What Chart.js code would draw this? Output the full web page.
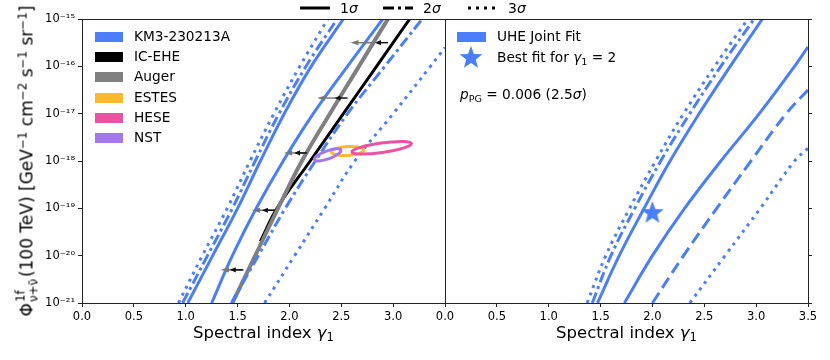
<!DOCTYPE html>
<html>
<head>
<meta charset="utf-8">
<script src="https://cdn.jsdelivr.net/npm/chart.js@4.4.1/dist/chart.umd.min.js"></script>
<style>
  body { margin: 0; background: #fff; }
  #wrap { position: relative; width: 830px; height: 360px; font-family: "DejaVu Sans", sans-serif; color: #000; }
  #wrap canvas { position: absolute; left: 0; top: 0; }
  .lbl { position: absolute; white-space: nowrap; z-index: 5; line-height: 1; }
  .mid { transform: translateY(-50%); }
  .swatch { position: absolute; width: 28px; height: 10px; z-index: 5; }
  sub, sup { font-size: 0.7em; line-height: 0; }
  sub { vertical-align: -0.3em; }
  sup { vertical-align: 0.5em; }
  #ylab { left: 27px; top: 161px; font-size: 17px; transform: translate(-50%, -50%) rotate(-90deg); }
  .ss { display: inline-block; position: relative; width: 26px; height: 0; }
  .ss span { position: absolute; left: 1px; font-size: 11.9px; line-height: 1; }
  .ss .up { top: -17px; }
  .ss .dn { top: -4px; }
  .xlab { top: 333px; font-size: 16.5px; transform: translate(-50%, -50%); }
  .leg { font-size: 13.7px; }
</style>
</head>
<body>
<div id="wrap">
  <canvas id="left" width="830" height="360"></canvas>
  <canvas id="right" width="830" height="360"></canvas>
  <div id="overlay"></div>
</div>
<script>
// ---- data (γ1, log10 Φ) ----
const leftXTicks = [0, 0.5, 1, 1.5, 2, 2.5, 3];
const rightXTicks = [0, 0.5, 1, 1.5, 2, 2.5, 3, 3.5];
const yTickExps = [-21, -20, -19, -18, -17, -16, -15];

// left panel: KM3-230213A contours
const km3Sig3Left  = [[0.93,-21],[1.16,-20],[1.40,-19],[1.62,-18],[1.85,-17],[2.10,-16],[2.37,-15]];
const km3Sig2Left  = [[0.97,-21],[1.21,-20],[1.45,-19],[1.67,-18],[1.90,-17],[2.16,-16],[2.46,-15]];
const km3Sig1Left  = [[1.02,-21],[1.26,-20],[1.50,-19],[1.72,-18],[1.95,-17],[2.21,-16],[2.52,-15]];
const km3Sig1Right = [[1.25,-21],[1.45,-20],[1.68,-19],[1.94,-18],[2.23,-17],[2.56,-16],[2.90,-15]];
const km3Sig2Right = [[1.44,-21],[1.70,-20],[1.96,-19],[2.25,-18],[2.56,-17],[2.92,-16],[3.28,-15]];
const km3Sig3Right = [[1.76,-21],[2.05,-20],[2.34,-19],[2.63,-18],[3.00,-17],[3.36,-16],[3.50,-15.6]];

// IC-EHE and Auger limits
const iceheLine = [[1.72,-19.7],[1.88,-19],[2.20,-18],[2.52,-17],[2.84,-16],[3.16,-15]];
const augerLine = [[1.45,-21],[1.67,-20],[1.89,-19],[2.12,-18],[2.39,-17],[2.67,-16],[2.95,-15]];
const augerArrows = [[2.81,-15.5],[2.49,-16.67],[2.17,-17.83],[1.86,-19.04],[1.56,-20.3]];
const iceheArrows = [[2.95,-15.5],[2.56,-16.67],[2.17,-17.83],[1.86,-19.04],[1.55,-20.3]];

// 1σ contours of ESTES, HESE, NST: [γ centre, log centre, half width γ, half height dex, tilt deg]
const estesContour = [2.56, -17.79, 0.155, 0.095, -3];
const heseContour  = [2.89, -17.72, 0.29, 0.10, -8];
const nstContour   = [2.37, -17.87, 0.135, 0.085, -20];

// right panel: UHE joint fit contours
const uheSig3Left  = [[1.37,-21],[1.55,-20],[1.78,-19],[2.03,-18],[2.30,-17],[2.60,-16],[2.92,-15]];
const uheSig2Left  = [[1.42,-21],[1.60,-20],[1.83,-19],[2.08,-18],[2.36,-17],[2.66,-16],[2.98,-15]];
const uheSig1Left  = [[1.47,-21],[1.68,-20],[1.92,-19],[2.17,-18],[2.45,-17],[2.75,-16],[3.06,-15]];
const uheSig1Right = [[1.73,-21],[2.00,-20],[2.31,-19],[2.66,-18],[3.03,-17],[3.37,-16],[3.50,-15.59]];
const uheSig2Right = [[2.00,-21],[2.30,-20],[2.62,-19],[2.95,-18],[3.29,-17],[3.50,-16.5]];
const uheSig3Right = [[2.36,-21],[2.70,-20],[3.04,-19],[3.37,-18],[3.50,-17.73]];
const uheBestFit   = [[2.0,-19.1]];

const sourceNames = ['KM3-230213A', 'IC-EHE', 'Auger', 'ESTES', 'HESE', 'NST'];
const sourceColors = ['#4a7efc', '#000000', '#808080', '#fdb92c', '#ec52a4', '#a577ec'];
const sigmaNames = ['1', '2', '3'];
const pValueText = '0.006 (2.5';

const BLUE = sourceColors[0];
const DOT = [3, 5];
const DASHDOT = [11, 4, 3, 4];
const DASH = [12, 6];

// ---- helpers ----
function pow10(e) { return Number('1e' + e); }

function toSup(n) {
  const map = { '-': '⁻', '0': '⁰', '1': '¹', '2': '²', '3': '³', '4': '⁴', '5': '⁵', '6': '⁶', '7': '⁷', '8': '⁸', '9': '⁹' };
  return String(n).split('').map(c => map[c]).join('');
}

function curve(points, color, dash, width, order) {
  return {
    data: points.map(([g, e]) => ({ x: g, y: Math.pow(10, e) })),
    borderColor: color,
    borderWidth: width,
    borderDash: dash,
    borderCapStyle: 'butt',
    pointRadius: 0,
    tension: 0.4,
    fill: false,
    order: order || 0
  };
}

function makeStar(r, color) {
  const c = document.createElement('canvas');
  c.width = c.height = r * 2 + 2;
  const g = c.getContext('2d');
  g.fillStyle = color;
  g.beginPath();
  for (let i = 0; i < 10; i++) {
    const rad = i % 2 ? r * 0.42 : r;
    const a = -Math.PI / 2 + i * Math.PI / 5;
    g.lineTo(r + 1 + rad * Math.cos(a), r + 1 + rad * Math.sin(a));
  }
  g.closePath();
  g.fill();
  return c;
}

// frame round the plot area
const framePlugin = {
  id: 'frame',
  afterDraw(chart) {
    const { ctx, chartArea: a } = chart;
    const l = Math.round(a.left) + 0.5, r = Math.round(a.right) + 0.5;
    const t = Math.round(a.top) + 0.5, b = Math.round(a.bottom) + 0.5;
    ctx.save();
    ctx.strokeStyle = '#222';
    ctx.lineWidth = 1;
    ctx.strokeRect(l, t, r - l, b - t);
    ctx.restore();
  }
};

// upper-limit arrows pointing to softer spectra
const arrowPlugin = {
  id: 'arrows',
  afterDatasetsDraw(chart, args, opts) {
    if (!opts.sets) return;
    const { ctx, scales: { x, y } } = chart;
    ctx.save();
    for (const s of opts.sets) {
      ctx.strokeStyle = s.color;
      ctx.fillStyle = s.color;
      ctx.lineWidth = 1.5;
      for (const [g, e] of s.points) {
        const px = x.getPixelForValue(g), py = y.getPixelForValue(Math.pow(10, e));
        const tip = px - s.length;
        ctx.beginPath();
        ctx.moveTo(px, py);
        ctx.lineTo(tip + s.head - 1, py);
        ctx.stroke();
        ctx.beginPath();
        ctx.moveTo(tip, py);
        ctx.lineTo(tip + s.head, py - 2.6);
        ctx.lineTo(tip + s.head, py + 2.6);
        ctx.closePath();
        ctx.fill();
      }
    }
    ctx.restore();
  }
};

// 1σ ellipses
const ellipsePlugin = {
  id: 'ellipses',
  afterDatasetsDraw(chart, args, opts) {
    if (!opts.items) return;
    const { ctx, scales: { x, y } } = chart;
    ctx.save();
    for (const it of opts.items) {
      const [g, e, hw, hh, tilt] = it.c;
      const cx = x.getPixelForValue(g), cy = y.getPixelForValue(Math.pow(10, e));
      const rx = Math.abs(x.getPixelForValue(g + hw) - cx);
      const ry = Math.abs(y.getPixelForValue(Math.pow(10, e + hh)) - cy);
      ctx.strokeStyle = it.color;
      ctx.lineWidth = 3;
      ctx.beginPath();
      ctx.ellipse(cx, cy, rx, ry, tilt * Math.PI / 180, 0, Math.PI * 2);
      ctx.stroke();
    }
    ctx.restore();
  }
};

function xScale(ticks) {
  return {
    type: 'linear',
    min: 0,
    max: 3.5,
    afterBuildTicks: axis => { axis.ticks = ticks.map(v => ({ value: v })); },
    afterFit: axis => { axis.height = 57; },
    border: { display: false },
    grid: { drawOnChartArea: false, drawTicks: true, tickLength: 4, color: '#222' },
    ticks: {
      autoSkip: false,
      maxRotation: 0,
      padding: 3,
      color: '#000',
      font: { family: 'DejaVu Sans', size: 11.5 },
      callback: v => Number(v).toFixed(1)
    }
  };
}

function yScale(position, width, showLabels) {
  return {
    type: 'logarithmic',
    position: position,
    min: pow10(-21),
    max: pow10(-15),
    afterBuildTicks: axis => { axis.ticks = yTickExps.map(e => ({ value: pow10(e) })); },
    afterFit: axis => { axis.width = width; },
    border: { display: false },
    grid: { drawOnChartArea: false, drawTicks: true, tickLength: 4, color: '#222' },
    ticks: {
      display: showLabels,
      autoSkip: false,
      padding: 3,
      color: '#000',
      font: { family: 'DejaVu Sans', size: 11.5 },
      callback: v => '10' + toSup(Math.round(Math.log10(v)))
    }
  };
}

function baseOptions(padding, xTicks, yAxis, plugins) {
  return {
    responsive: false,
    animation: false,
    layout: { padding: padding },
    plugins: Object.assign({ legend: { display: false }, tooltip: { enabled: false } }, plugins),
    scales: { x: xScale(xTicks), y: yAxis }
  };
}

// ---- left panel ----
function drawLeft() {
  const datasets = [
    curve(km3Sig3Left, BLUE, DOT, 3),
    curve(km3Sig2Left, BLUE, DASHDOT, 3),
    curve(km3Sig1Left, BLUE, [], 3),
    curve(km3Sig1Right, BLUE, [], 3),
    curve(km3Sig2Right, BLUE, DASHDOT, 3),
    curve(km3Sig3Right, BLUE, DOT, 3),
    curve(iceheLine, sourceColors[1], [], 3, 2),
    curve(augerLine, sourceColors[2], [], 4, 1)
  ];
  new Chart(document.getElementById('left'), {
    type: 'line',
    data: { datasets },
    options: baseOptions({ left: 0, right: 385, top: 19, bottom: 0 }, leftXTicks, yScale('left', 82, true), {
      arrows: { sets: [
        { points: augerArrows, color: '#777', length: 23, head: 8 },
        { points: iceheArrows, color: '#111', length: 13, head: 6 }
      ] },
      ellipses: { items: [
        { c: estesContour, color: sourceColors[3] },
        { c: heseContour, color: sourceColors[4] },
        { c: nstContour, color: sourceColors[5] }
      ] }
    }),
    plugins: [framePlugin, arrowPlugin, ellipsePlugin]
  });
}

// ---- right panel ----
function drawRight() {
  const star = makeStar(12, BLUE);
  const best = {
    type: 'scatter',
    data: uheBestFit.map(([g, e]) => ({ x: g, y: Math.pow(10, e) })),
    pointStyle: star,
    pointRadius: 12,
    order: -1
  };
  const datasets = [
    curve(uheSig3Left, BLUE, DOT, 3),
    curve(uheSig2Left, BLUE, DASHDOT, 3),
    curve(uheSig1Left, BLUE, [], 3),
    curve(uheSig1Right, BLUE, [], 3),
    curve(uheSig2Right, BLUE, DASH, 3),
    curve(uheSig3Right, BLUE, DOT, 3),
    best
  ];
  new Chart(document.getElementById('right'), {
    type: 'line',
    data: { datasets },
    options: baseOptions({ left: 445, right: 0, top: 19, bottom: 0 }, rightXTicks, yScale('right', 22, false), {}),
    plugins: [framePlugin]
  });
}

// ---- text: axis labels and legends ----
function addText(html, x, y, cls, style) {
  const d = document.createElement('div');
  d.className = 'lbl ' + (cls || '');
  d.style.left = x + 'px';
  d.style.top = y + 'px';
  if (style) Object.assign(d.style, style);
  d.innerHTML = html;
  document.getElementById('overlay').appendChild(d);
  return d;
}

function addSwatch(color, x, y, w) {
  const s = document.createElement('div');
  s.className = 'swatch';
  s.style.background = color;
  s.style.left = x + 'px';
  s.style.top = (y - 5) + 'px';
  if (w) s.style.width = w + 'px';
  document.getElementById('overlay').appendChild(s);
}

function lineSample(dash, x, y) {
  const svg = `<svg width="30" height="6" style="display:block"><line x1="0" y1="3" x2="30" y2="3" stroke="#000" stroke-width="3" stroke-dasharray="${dash.join(' ')}"/></svg>`;
  addText(svg, x, y, 'mid');
}

function drawTexts() {
  const ylab = addText('Φ<span class="ss"><span class="up">1f</span><span class="dn">ν+ν̄</span></span>(100 TeV) [GeV<sup>−1</sup> cm<sup>−2</sup> s<sup>−1</sup> sr<sup>−1</sup>]', 27, 161);
  ylab.id = 'ylab';
  addText('Spectral index <i>γ</i><sub>1</sub>', 263.5, 333, 'xlab');
  addText('Spectral index <i>γ</i><sub>1</sub>', 626.5, 333, 'xlab');

  // sigma styles above the panels
  const sigmaDash = [[], DASHDOT, DOT];
  const sigmaX = [300, 383, 468];
  sigmaNames.forEach((n, i) => {
    lineSample(sigmaDash[i], sigmaX[i], 8);
    addText(n + '<i>σ</i>', sigmaX[i] + 40, 8, 'mid', { fontSize: '14px' });
  });

  // left legend
  sourceNames.forEach((name, i) => {
    const cy = 37 + i * 20.2;
    addSwatch(sourceColors[i], 95, cy);
    addText(name, 134, cy, 'leg mid');
  });

  // right legend
  addSwatch(BLUE, 457, 37, 29);
  addText('UHE Joint Fit', 497, 37, 'leg mid');
  const st = makeStar(12, BLUE);
  st.style.cssText = 'position:absolute;left:458px;top:45px;z-index:5;';
  document.getElementById('overlay').appendChild(st);
  addText('Best fit for <i>γ</i><sub>1</sub> = 2', 497, 58, 'leg mid');
  addText('<i>p</i><sub>PG</sub> = ' + pValueText + '<i>σ</i>)', 460, 95, 'leg mid');
}

drawLeft();
drawRight();
drawTexts();
</script>
</body>
</html>
